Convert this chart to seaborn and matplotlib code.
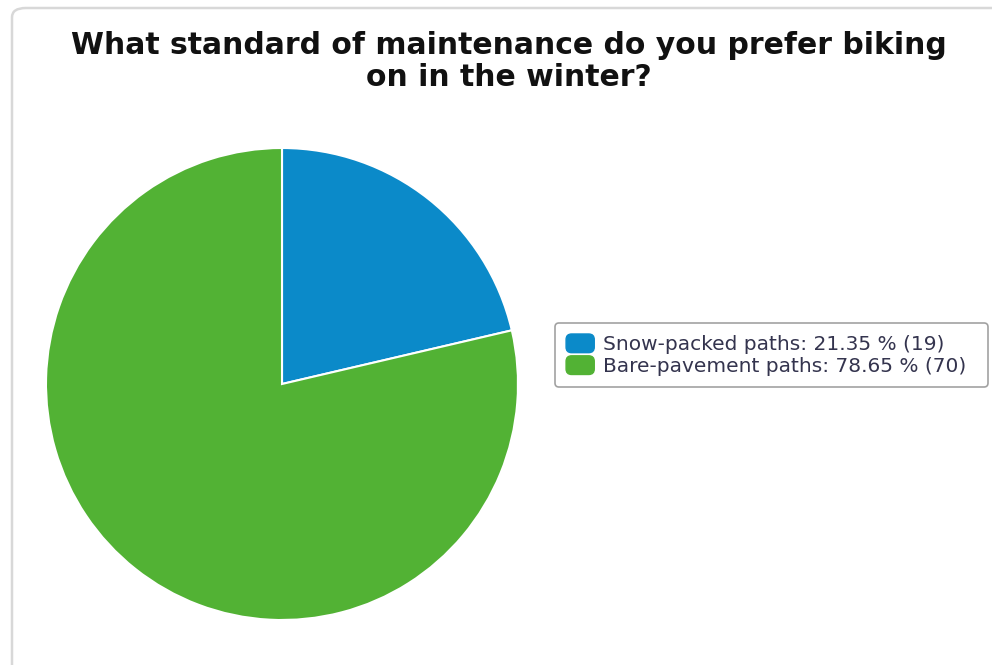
import matplotlib
matplotlib.use("Agg")
import matplotlib.pyplot as plt
from matplotlib.patches import FancyBboxPatch, Patch
from matplotlib.legend_handler import HandlerPatch
import seaborn as sns

# Survey answers
categories = ["Snow-packed paths", "Bare-pavement paths"]
counts = [19, 70]
percents = [21.35, 78.65]
colors = ["#0b8ac9", "#52b234"]
title_lines = ["What standard of maintenance do you prefer biking",
               "on in the winter?"]

sns.set_theme(style="white")
plt.rcParams["font.family"] = ["DejaVu Sans"]

W, H = 992, 665
fig = plt.figure(figsize=(W / 100, H / 100), dpi=100)
fig.patch.set_facecolor("white")

# Panel frame with rounded corner
frame = FancyBboxPatch((12 / W, -0.2), 1.2, (H - 8) / H + 0.2,
                       boxstyle="round,pad=0,rounding_size=0.014",
                       transform=fig.transFigure, facecolor="white",
                       edgecolor="#d8d8d8", linewidth=1.8, zorder=-5)
fig.patches.append(frame)

for y, line in zip([45, 78], title_lines):
    fig.text(509 / W, 1 - y / H, line, ha="center", va="center",
             fontsize=21.5, fontweight="bold", color="#111111")

cx, cy, r = 282, 384, 236
ax = fig.add_axes([(cx - r) / W, (H - cy - r) / H, 2 * r / W, 2 * r / H])
ax.pie(counts, colors=colors, startangle=90, counterclock=False,
       wedgeprops=dict(edgecolor="white", linewidth=1.5))
ax.set_xlim(-1, 1)
ax.set_ylim(-1, 1)
ax.set_aspect("equal")
ax.axis("off")


def rounded_key(legend, orig_handle, xdescent, ydescent, width, height, fontsize):
    return FancyBboxPatch((-xdescent, -ydescent), width, height,
                          boxstyle="round,pad=0,rounding_size=4")


handles = [Patch(facecolor=c, edgecolor=c, label=f"{n}: {p:.2f} % ({k})")
           for n, p, k, c in zip(categories, percents, counts, colors)]
leg = fig.legend(handles=handles, loc="center", mode="expand",
                 bbox_to_anchor=(555 / W, 1 - 388 / H, 433 / W, 66 / H),
                 fontsize=14.5, frameon=True, fancybox=True, edgecolor="#8a8a8a",
                 handlelength=1.4, handleheight=1.05, handletextpad=0.45,
                 labelspacing=0.08, borderpad=0.55, borderaxespad=0,
                 labelcolor="#34344e",
                 handler_map={Patch: HandlerPatch(patch_func=rounded_key)})
leg.get_frame().set_linewidth(1.2)

fig.savefig("out.png", dpi=100, facecolor="white")
